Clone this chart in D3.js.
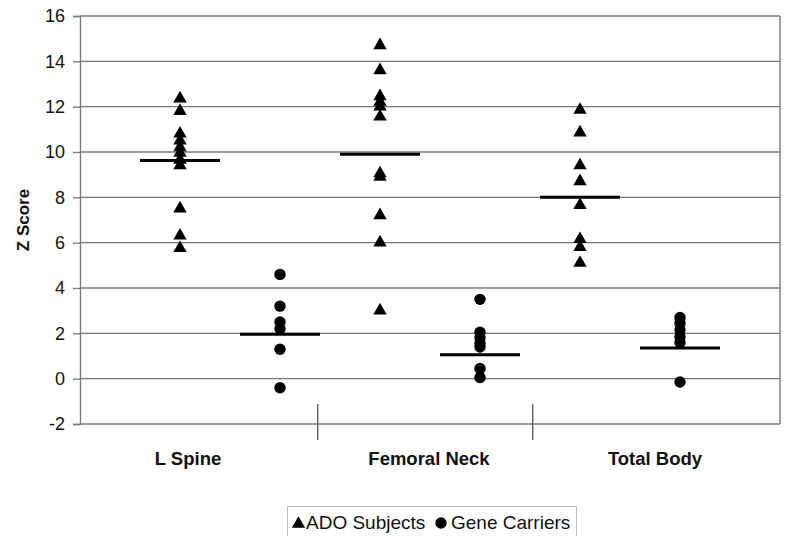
<!DOCTYPE html>
<html><head><meta charset="utf-8">
<script src="https://cdn.jsdelivr.net/npm/d3@7"></script>
<style>
html,body{margin:0;padding:0;background:#fff;}
svg{display:block;font-family:"Liberation Sans",Arial,Helvetica,sans-serif;}
</style></head>
<body>
<svg id="chart" width="786" height="536"></svg>
<script>
// ---- data ----
const categories = ["L Spine", "Femoral Neck", "Total Body"];
const adoValues = [
  [12.4, 11.85, 10.85, 10.55, 10.25, 10.0, 9.7, 9.45, 7.55, 6.35, 5.8],
  [14.75, 13.65, 12.5, 12.25, 12.05, 11.6, 9.1, 8.95, 7.25, 6.05, 3.05],
  [11.9, 10.9, 9.45, 8.75, 7.7, 6.2, 5.85, 5.15]
];
const carrierValues = [
  [4.6, 3.2, 2.5, 2.2, 1.3, -0.4],
  [3.5, 2.05, 1.8, 1.55, 1.4, 0.45, 0.05],
  [2.7, 2.45, 2.15, 1.85, 1.6, -0.15]
];
const adoMeans = [9.62, 9.9, 8.0];
const carrierMeans = [1.96, 1.05, 1.35];
const yTicks = [-2, 0, 2, 4, 6, 8, 10, 12, 14, 16];
const seriesNames = ["ADO Subjects", "Gene Carriers"];

// ---- layout ----
const plotL = 80, plotR = 780, plotT = 16, plotB = 424;
const svg = d3.select("#chart");
const x = d3.scaleLinear().domain([0, 7]).range([plotL, plotR]);
const y = d3.scaleLinear().domain([-2, 16]).range([plotB, plotT]);
const adoX = i => 1 + 2 * i;      // x position of ADO column per category
const carX = i => 2 + 2 * i;      // x position of carrier column
const labelX = [1.08, 3.49, 5.75];
const sepX = [2.377, 4.527];
const gridColor = "#7a7a7a";

// gridlines
svg.append("g").selectAll("line").data(yTicks).join("line")
  .attr("x1", plotL).attr("x2", plotR)
  .attr("y1", d => y(d)).attr("y2", d => y(d))
  .attr("stroke", gridColor).attr("stroke-width", 1.4);
// right border
svg.append("line").attr("x1", plotR).attr("x2", plotR).attr("y1", plotT).attr("y2", plotB)
  .attr("stroke", gridColor).attr("stroke-width", 1.4);

// y axis
const yAxis = d3.axisLeft(y).tickValues(yTicks).tickSize(7).tickPadding(8).tickFormat(d => String(d));
const gy = svg.append("g").attr("transform", `translate(${plotL},0)`).call(yAxis);
gy.select(".domain").attr("stroke", gridColor).attr("stroke-width", 1.4);
gy.selectAll(".tick line").attr("stroke", gridColor).attr("stroke-width", 1.4);
gy.selectAll(".tick text").attr("font-size", 18).attr("fill", "#111")
  .attr("font-family", "Liberation Sans, Arial, sans-serif");

// y title
svg.append("text").attr("transform", `translate(29,${(plotT + plotB) / 2}) rotate(-90)`)
  .attr("text-anchor", "middle").attr("font-weight", "bold").attr("font-size", 17)
  .attr("fill", "#111").text("Z Score");

// category separators
svg.append("g").selectAll("line").data(sepX).join("line")
  .attr("x1", d => x(d)).attr("x2", d => x(d))
  .attr("y1", plotB - 20).attr("y2", plotB + 16)
  .attr("stroke", "#555").attr("stroke-width", 1.3);

// category labels
svg.append("g").selectAll("text").data(categories).join("text")
  .attr("x", (d, i) => x(labelX[i])).attr("y", 465)
  .attr("text-anchor", "middle").attr("font-weight", "bold").attr("font-size", 18.5)
  .attr("fill", "#111").text(d => d);

// mean bars
const barHalf = 0.4;
svg.append("g").selectAll("line").data(adoMeans).join("line")
  .attr("x1", (d, i) => x(adoX(i) - barHalf)).attr("x2", (d, i) => x(adoX(i) + barHalf))
  .attr("y1", d => y(d)).attr("y2", d => y(d))
  .attr("stroke", "#000").attr("stroke-width", 3);
svg.append("g").selectAll("line").data(carrierMeans).join("line")
  .attr("x1", (d, i) => x(carX(i) - barHalf)).attr("x2", (d, i) => x(carX(i) + barHalf))
  .attr("y1", d => y(d)).attr("y2", d => y(d))
  .attr("stroke", "#000").attr("stroke-width", 3);

// markers
const tri = d3.symbol().type(d3.symbolTriangle).size(78);
const adoPts = adoValues.flatMap((arr, i) => arr.map(v => ({ i, v })));
svg.append("g").selectAll("path").data(adoPts).join("path")
  .attr("d", tri)
  .attr("transform", d => `translate(${x(adoX(d.i))},${y(d.v) + 1})`)
  .attr("fill", "#000");
const carPts = carrierValues.flatMap((arr, i) => arr.map(v => ({ i, v })));
svg.append("g").selectAll("circle").data(carPts).join("circle")
  .attr("cx", d => x(carX(d.i))).attr("cy", d => y(d.v)).attr("r", 5.7)
  .attr("fill", "#000");

// legend
const lg = svg.append("g");
lg.append("rect").attr("x", 287.5).attr("y", 506.5).attr("width", 289).attr("height", 40)
  .attr("fill", "#fff").attr("stroke", "#bbb").attr("stroke-width", 1);
lg.append("path").attr("d", tri).attr("transform", "translate(298.5,524)").attr("fill", "#000");
lg.append("text").attr("x", 306).attr("y", 529).attr("font-size", 19).attr("fill", "#111").text(seriesNames[0]);
lg.append("circle").attr("cx", 441).attr("cy", 523).attr("r", 5.7).attr("fill", "#000");
lg.append("text").attr("x", 451).attr("y", 529).attr("font-size", 19).attr("fill", "#111").text(seriesNames[1]);
</script>
</body></html>
